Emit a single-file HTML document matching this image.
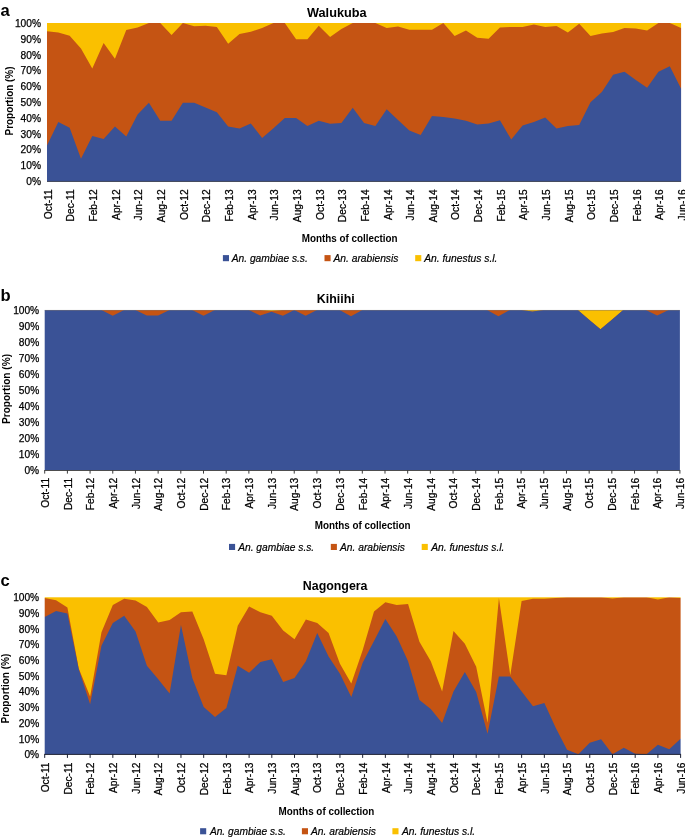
<!DOCTYPE html>
<html><head><meta charset="utf-8"><title>Figure</title>
<style>
html,body{margin:0;padding:0;background:#fff;}
body{width:685px;height:837px;overflow:hidden;}
svg{display:block;will-change:transform;}
text{font-family:"Liberation Sans",sans-serif;fill:#000;}
.tl{font-size:10.2px;stroke:#000;stroke-width:0.25px;}
.tt{font-size:12.4px;font-weight:bold;}
.pl{font-size:16.6px;font-weight:bold;fill:#000;}
.at{font-size:10.2px;font-weight:bold;}
.lg{font-size:10.4px;font-style:italic;stroke:#000;stroke-width:0.2px;}
</style></head>
<body>
<svg width="685" height="837" viewBox="0 0 685 837">
<rect width="685" height="837" fill="#fff"/>
<mask id="cpa" maskUnits="userSpaceOnUse" x="0" y="0" width="685" height="837"><rect x="47.00" y="23.00" width="634.10" height="158.10" fill="#fff"/></mask>
<g mask="url(#cpa)">
<rect x="44.00" y="20.00" width="640.10" height="164.10" fill="#FAC000"/>
<polygon points="44.00,31.22 47.00,31.22 58.32,32.49 69.65,35.65 80.97,48.45 92.29,68.53 103.62,43.08 114.94,58.73 126.26,29.96 137.59,27.58 148.91,23.00 160.23,23.00 171.56,35.02 182.88,23.00 194.20,26.16 205.53,25.85 216.85,26.95 228.17,43.71 239.49,34.07 250.82,31.70 262.14,28.06 273.46,23.00 284.79,23.00 296.11,39.13 307.43,39.13 318.76,25.85 330.08,37.07 341.40,29.01 352.73,23.00 364.05,23.00 375.37,23.00 386.70,28.06 398.02,26.48 409.34,29.64 420.67,29.64 431.99,29.64 443.31,23.00 454.64,36.12 465.96,30.59 477.28,37.70 488.61,38.81 499.93,27.43 511.25,26.95 522.58,26.95 533.90,24.58 545.22,26.95 556.54,26.00 567.87,32.49 579.19,23.63 590.51,35.96 601.84,33.59 613.16,32.01 624.48,28.06 635.81,28.38 647.13,30.59 658.45,23.00 669.78,23.00 681.10,28.06 684.10,28.06 684.10,184.10 681.10,184.10 669.78,184.10 658.45,184.10 647.13,184.10 635.81,184.10 624.48,184.10 613.16,184.10 601.84,184.10 590.51,184.10 579.19,184.10 567.87,184.10 556.54,184.10 545.22,184.10 533.90,184.10 522.58,184.10 511.25,184.10 499.93,184.10 488.61,184.10 477.28,184.10 465.96,184.10 454.64,184.10 443.31,184.10 431.99,184.10 420.67,184.10 409.34,184.10 398.02,184.10 386.70,184.10 375.37,184.10 364.05,184.10 352.73,184.10 341.40,184.10 330.08,184.10 318.76,184.10 307.43,184.10 296.11,184.10 284.79,184.10 273.46,184.10 262.14,184.10 250.82,184.10 239.49,184.10 228.17,184.10 216.85,184.10 205.53,184.10 194.20,184.10 182.88,184.10 171.56,184.10 160.23,184.10 148.91,184.10 137.59,184.10 126.26,184.10 114.94,184.10 103.62,184.10 92.29,184.10 80.97,184.10 69.65,184.10 58.32,184.10 47.00,184.10 44.00,184.10" fill="#C55413"/>
<polygon points="44.00,145.53 47.00,145.53 58.32,121.97 69.65,127.66 80.97,158.65 92.29,136.04 103.62,138.89 114.94,126.40 126.26,136.52 137.59,114.38 148.91,102.68 160.23,120.86 171.56,120.86 182.88,102.68 194.20,102.68 205.53,107.43 216.85,112.33 228.17,126.40 239.49,128.45 250.82,123.39 262.14,137.94 273.46,128.14 284.79,118.02 296.11,118.02 307.43,126.08 318.76,120.86 330.08,123.87 341.40,122.92 352.73,107.74 364.05,123.08 375.37,125.92 386.70,109.32 398.02,120.07 409.34,130.51 420.67,134.93 431.99,115.96 443.31,117.07 454.64,118.49 465.96,120.86 477.28,124.50 488.61,123.39 499.93,120.23 511.25,139.52 522.58,125.45 533.90,121.97 545.22,117.39 556.54,128.45 567.87,126.08 579.19,124.97 590.51,102.37 601.84,91.93 613.16,74.86 624.48,71.85 635.81,79.92 647.13,87.82 658.45,71.85 669.78,66.16 681.10,88.77 684.10,88.77 684.10,184.10 681.10,184.10 669.78,184.10 658.45,184.10 647.13,184.10 635.81,184.10 624.48,184.10 613.16,184.10 601.84,184.10 590.51,184.10 579.19,184.10 567.87,184.10 556.54,184.10 545.22,184.10 533.90,184.10 522.58,184.10 511.25,184.10 499.93,184.10 488.61,184.10 477.28,184.10 465.96,184.10 454.64,184.10 443.31,184.10 431.99,184.10 420.67,184.10 409.34,184.10 398.02,184.10 386.70,184.10 375.37,184.10 364.05,184.10 352.73,184.10 341.40,184.10 330.08,184.10 318.76,184.10 307.43,184.10 296.11,184.10 284.79,184.10 273.46,184.10 262.14,184.10 250.82,184.10 239.49,184.10 228.17,184.10 216.85,184.10 205.53,184.10 194.20,184.10 182.88,184.10 171.56,184.10 160.23,184.10 148.91,184.10 137.59,184.10 126.26,184.10 114.94,184.10 103.62,184.10 92.29,184.10 80.97,184.10 69.65,184.10 58.32,184.10 47.00,184.10 44.00,184.10" fill="#3A5296"/>
</g>
<rect x="47.00" y="180.95" width="634.10" height="0.9" fill="#2b3047"/>
<text x="41.00" y="185.10" class="tl" text-anchor="end">0%</text>
<text x="41.00" y="169.29" class="tl" text-anchor="end">10%</text>
<text x="41.00" y="153.48" class="tl" text-anchor="end">20%</text>
<text x="41.00" y="137.67" class="tl" text-anchor="end">30%</text>
<text x="41.00" y="121.86" class="tl" text-anchor="end">40%</text>
<text x="41.00" y="106.05" class="tl" text-anchor="end">50%</text>
<text x="41.00" y="90.24" class="tl" text-anchor="end">60%</text>
<text x="41.00" y="74.43" class="tl" text-anchor="end">70%</text>
<text x="41.00" y="58.62" class="tl" text-anchor="end">80%</text>
<text x="41.00" y="42.81" class="tl" text-anchor="end">90%</text>
<text x="41.00" y="27.00" class="tl" text-anchor="end">100%</text>
<text transform="translate(51.80,189.30) rotate(-90)" class="tl" text-anchor="end">Oct-11</text>
<text transform="translate(74.45,189.30) rotate(-90)" class="tl" text-anchor="end">Dec-11</text>
<text transform="translate(97.09,189.30) rotate(-90)" class="tl" text-anchor="end">Feb-12</text>
<text transform="translate(119.74,189.30) rotate(-90)" class="tl" text-anchor="end">Apr-12</text>
<text transform="translate(142.39,189.30) rotate(-90)" class="tl" text-anchor="end">Jun-12</text>
<text transform="translate(165.03,189.30) rotate(-90)" class="tl" text-anchor="end">Aug-12</text>
<text transform="translate(187.68,189.30) rotate(-90)" class="tl" text-anchor="end">Oct-12</text>
<text transform="translate(210.33,189.30) rotate(-90)" class="tl" text-anchor="end">Dec-12</text>
<text transform="translate(232.97,189.30) rotate(-90)" class="tl" text-anchor="end">Feb-13</text>
<text transform="translate(255.62,189.30) rotate(-90)" class="tl" text-anchor="end">Apr-13</text>
<text transform="translate(278.26,189.30) rotate(-90)" class="tl" text-anchor="end">Jun-13</text>
<text transform="translate(300.91,189.30) rotate(-90)" class="tl" text-anchor="end">Aug-13</text>
<text transform="translate(323.56,189.30) rotate(-90)" class="tl" text-anchor="end">Oct-13</text>
<text transform="translate(346.20,189.30) rotate(-90)" class="tl" text-anchor="end">Dec-13</text>
<text transform="translate(368.85,189.30) rotate(-90)" class="tl" text-anchor="end">Feb-14</text>
<text transform="translate(391.50,189.30) rotate(-90)" class="tl" text-anchor="end">Apr-14</text>
<text transform="translate(414.14,189.30) rotate(-90)" class="tl" text-anchor="end">Jun-14</text>
<text transform="translate(436.79,189.30) rotate(-90)" class="tl" text-anchor="end">Aug-14</text>
<text transform="translate(459.44,189.30) rotate(-90)" class="tl" text-anchor="end">Oct-14</text>
<text transform="translate(482.08,189.30) rotate(-90)" class="tl" text-anchor="end">Dec-14</text>
<text transform="translate(504.73,189.30) rotate(-90)" class="tl" text-anchor="end">Feb-15</text>
<text transform="translate(527.38,189.30) rotate(-90)" class="tl" text-anchor="end">Apr-15</text>
<text transform="translate(550.02,189.30) rotate(-90)" class="tl" text-anchor="end">Jun-15</text>
<text transform="translate(572.67,189.30) rotate(-90)" class="tl" text-anchor="end">Aug-15</text>
<text transform="translate(595.31,189.30) rotate(-90)" class="tl" text-anchor="end">Oct-15</text>
<text transform="translate(617.96,189.30) rotate(-90)" class="tl" text-anchor="end">Dec-15</text>
<text transform="translate(640.61,189.30) rotate(-90)" class="tl" text-anchor="end">Feb-16</text>
<text transform="translate(663.25,189.30) rotate(-90)" class="tl" text-anchor="end">Apr-16</text>
<text transform="translate(685.90,189.30) rotate(-90)" class="tl" text-anchor="end">Jun-16</text>
<text x="307.00" y="16.60" class="tt" textLength="59.6" lengthAdjust="spacingAndGlyphs">Walukuba</text>
<text x="0.60" y="15.70" class="pl">a</text>
<text transform="translate(13.20,101.00) rotate(-90)" class="at" text-anchor="middle" textLength="69.0" lengthAdjust="spacingAndGlyphs">Proportion (%)</text>
<text x="301.80" y="242.00" class="at" textLength="95.8" lengthAdjust="spacingAndGlyphs">Months of collection</text>
<rect x="222.90" y="255.10" width="6.1" height="6.1" fill="#3A5296"/>
<text x="231.80" y="262.00" class="lg" textLength="76.0" lengthAdjust="spacingAndGlyphs">An. gambiae s.s.</text>
<rect x="324.50" y="255.10" width="6.1" height="6.1" fill="#C55413"/>
<text x="333.50" y="262.00" class="lg" textLength="64.9" lengthAdjust="spacingAndGlyphs">An. arabiensis</text>
<rect x="415.20" y="255.10" width="6.1" height="6.1" fill="#FAC000"/>
<text x="424.20" y="262.00" class="lg" textLength="73.3" lengthAdjust="spacingAndGlyphs">An. funestus s.l.</text>
<mask id="cpb" maskUnits="userSpaceOnUse" x="0" y="0" width="685" height="837"><rect x="44.70" y="310.10" width="635.20" height="160.00" fill="#fff"/></mask>
<g mask="url(#cpb)">
<rect x="41.70" y="307.10" width="641.20" height="166.00" fill="#FAC000"/>
<polygon points="41.70,310.10 44.70,310.10 56.04,310.10 67.39,310.10 78.73,310.10 90.07,310.10 101.41,310.10 112.76,310.10 124.10,310.10 135.44,310.10 146.79,310.10 158.13,310.10 169.47,310.10 180.81,310.10 192.16,310.10 203.50,310.10 214.84,310.10 226.19,310.10 237.53,310.10 248.87,310.10 260.21,310.10 271.56,310.90 282.90,310.10 294.24,310.10 305.59,310.10 316.93,310.10 328.27,310.10 339.61,310.10 350.96,310.10 362.30,310.10 373.64,310.10 384.99,310.10 396.33,310.10 407.67,310.10 419.01,310.10 430.36,310.10 441.70,310.10 453.04,310.10 464.39,310.10 475.73,310.10 487.07,310.10 498.41,310.10 509.76,310.10 521.10,310.10 532.44,311.38 543.79,310.10 555.13,310.10 566.47,310.10 577.81,310.10 589.16,319.70 600.50,329.30 611.84,319.70 623.19,310.10 634.53,310.10 645.87,310.10 657.21,310.10 668.56,310.10 679.90,310.10 682.90,310.10 682.90,473.10 679.90,473.10 668.56,473.10 657.21,473.10 645.87,473.10 634.53,473.10 623.19,473.10 611.84,473.10 600.50,473.10 589.16,473.10 577.81,473.10 566.47,473.10 555.13,473.10 543.79,473.10 532.44,473.10 521.10,473.10 509.76,473.10 498.41,473.10 487.07,473.10 475.73,473.10 464.39,473.10 453.04,473.10 441.70,473.10 430.36,473.10 419.01,473.10 407.67,473.10 396.33,473.10 384.99,473.10 373.64,473.10 362.30,473.10 350.96,473.10 339.61,473.10 328.27,473.10 316.93,473.10 305.59,473.10 294.24,473.10 282.90,473.10 271.56,473.10 260.21,473.10 248.87,473.10 237.53,473.10 226.19,473.10 214.84,473.10 203.50,473.10 192.16,473.10 180.81,473.10 169.47,473.10 158.13,473.10 146.79,473.10 135.44,473.10 124.10,473.10 112.76,473.10 101.41,473.10 90.07,473.10 78.73,473.10 67.39,473.10 56.04,473.10 44.70,473.10 41.70,473.10" fill="#C55413"/>
<polygon points="41.70,310.10 44.70,310.10 56.04,310.10 67.39,310.10 78.73,310.10 90.07,310.10 101.41,310.10 112.76,315.70 124.10,310.10 135.44,310.10 146.79,315.38 158.13,315.38 169.47,310.10 180.81,310.10 192.16,310.10 203.50,315.70 214.84,310.10 226.19,310.10 237.53,310.10 248.87,310.10 260.21,315.38 271.56,311.86 282.90,315.70 294.24,310.10 305.59,315.70 316.93,310.10 328.27,310.10 339.61,310.10 350.96,316.34 362.30,310.10 373.64,310.10 384.99,310.10 396.33,310.10 407.67,310.10 419.01,310.10 430.36,310.10 441.70,310.10 453.04,310.10 464.39,310.10 475.73,310.10 487.07,310.10 498.41,316.34 509.76,310.10 521.10,310.10 532.44,311.38 543.79,310.10 555.13,310.10 566.47,310.10 577.81,310.10 589.16,319.70 600.50,329.30 611.84,319.70 623.19,310.10 634.53,310.10 645.87,310.10 657.21,315.54 668.56,310.10 679.90,310.10 682.90,310.10 682.90,473.10 679.90,473.10 668.56,473.10 657.21,473.10 645.87,473.10 634.53,473.10 623.19,473.10 611.84,473.10 600.50,473.10 589.16,473.10 577.81,473.10 566.47,473.10 555.13,473.10 543.79,473.10 532.44,473.10 521.10,473.10 509.76,473.10 498.41,473.10 487.07,473.10 475.73,473.10 464.39,473.10 453.04,473.10 441.70,473.10 430.36,473.10 419.01,473.10 407.67,473.10 396.33,473.10 384.99,473.10 373.64,473.10 362.30,473.10 350.96,473.10 339.61,473.10 328.27,473.10 316.93,473.10 305.59,473.10 294.24,473.10 282.90,473.10 271.56,473.10 260.21,473.10 248.87,473.10 237.53,473.10 226.19,473.10 214.84,473.10 203.50,473.10 192.16,473.10 180.81,473.10 169.47,473.10 158.13,473.10 146.79,473.10 135.44,473.10 124.10,473.10 112.76,473.10 101.41,473.10 90.07,473.10 78.73,473.10 67.39,473.10 56.04,473.10 44.70,473.10 41.70,473.10" fill="#3A5296"/>
</g>
<rect x="44.70" y="309.90" width="635.20" height="1" fill="#6e6058" opacity="0.4"/>
<rect x="44.70" y="470.00" width="635.20" height="0.9" fill="#3c3c3c"/>
<rect x="44.20" y="470.00" width="1" height="3.6" fill="#3c3c3c"/>
<rect x="66.89" y="470.00" width="1" height="3.6" fill="#3c3c3c"/>
<rect x="89.57" y="470.00" width="1" height="3.6" fill="#3c3c3c"/>
<rect x="112.26" y="470.00" width="1" height="3.6" fill="#3c3c3c"/>
<rect x="134.94" y="470.00" width="1" height="3.6" fill="#3c3c3c"/>
<rect x="157.63" y="470.00" width="1" height="3.6" fill="#3c3c3c"/>
<rect x="180.31" y="470.00" width="1" height="3.6" fill="#3c3c3c"/>
<rect x="203.00" y="470.00" width="1" height="3.6" fill="#3c3c3c"/>
<rect x="225.69" y="470.00" width="1" height="3.6" fill="#3c3c3c"/>
<rect x="248.37" y="470.00" width="1" height="3.6" fill="#3c3c3c"/>
<rect x="271.06" y="470.00" width="1" height="3.6" fill="#3c3c3c"/>
<rect x="293.74" y="470.00" width="1" height="3.6" fill="#3c3c3c"/>
<rect x="316.43" y="470.00" width="1" height="3.6" fill="#3c3c3c"/>
<rect x="339.11" y="470.00" width="1" height="3.6" fill="#3c3c3c"/>
<rect x="361.80" y="470.00" width="1" height="3.6" fill="#3c3c3c"/>
<rect x="384.49" y="470.00" width="1" height="3.6" fill="#3c3c3c"/>
<rect x="407.17" y="470.00" width="1" height="3.6" fill="#3c3c3c"/>
<rect x="429.86" y="470.00" width="1" height="3.6" fill="#3c3c3c"/>
<rect x="452.54" y="470.00" width="1" height="3.6" fill="#3c3c3c"/>
<rect x="475.23" y="470.00" width="1" height="3.6" fill="#3c3c3c"/>
<rect x="497.91" y="470.00" width="1" height="3.6" fill="#3c3c3c"/>
<rect x="520.60" y="470.00" width="1" height="3.6" fill="#3c3c3c"/>
<rect x="543.29" y="470.00" width="1" height="3.6" fill="#3c3c3c"/>
<rect x="565.97" y="470.00" width="1" height="3.6" fill="#3c3c3c"/>
<rect x="588.66" y="470.00" width="1" height="3.6" fill="#3c3c3c"/>
<rect x="611.34" y="470.00" width="1" height="3.6" fill="#3c3c3c"/>
<rect x="634.03" y="470.00" width="1" height="3.6" fill="#3c3c3c"/>
<rect x="656.71" y="470.00" width="1" height="3.6" fill="#3c3c3c"/>
<rect x="679.40" y="470.00" width="1" height="3.6" fill="#3c3c3c"/>
<text x="39.20" y="474.10" class="tl" text-anchor="end">0%</text>
<text x="39.20" y="458.10" class="tl" text-anchor="end">10%</text>
<text x="39.20" y="442.10" class="tl" text-anchor="end">20%</text>
<text x="39.20" y="426.10" class="tl" text-anchor="end">30%</text>
<text x="39.20" y="410.10" class="tl" text-anchor="end">40%</text>
<text x="39.20" y="394.10" class="tl" text-anchor="end">50%</text>
<text x="39.20" y="378.10" class="tl" text-anchor="end">60%</text>
<text x="39.20" y="362.10" class="tl" text-anchor="end">70%</text>
<text x="39.20" y="346.10" class="tl" text-anchor="end">80%</text>
<text x="39.20" y="330.10" class="tl" text-anchor="end">90%</text>
<text x="39.20" y="314.10" class="tl" text-anchor="end">100%</text>
<text transform="translate(48.90,477.90) rotate(-90)" class="tl" text-anchor="end">Oct-11</text>
<text transform="translate(71.59,477.90) rotate(-90)" class="tl" text-anchor="end">Dec-11</text>
<text transform="translate(94.27,477.90) rotate(-90)" class="tl" text-anchor="end">Feb-12</text>
<text transform="translate(116.96,477.90) rotate(-90)" class="tl" text-anchor="end">Apr-12</text>
<text transform="translate(139.64,477.90) rotate(-90)" class="tl" text-anchor="end">Jun-12</text>
<text transform="translate(162.33,477.90) rotate(-90)" class="tl" text-anchor="end">Aug-12</text>
<text transform="translate(185.01,477.90) rotate(-90)" class="tl" text-anchor="end">Oct-12</text>
<text transform="translate(207.70,477.90) rotate(-90)" class="tl" text-anchor="end">Dec-12</text>
<text transform="translate(230.39,477.90) rotate(-90)" class="tl" text-anchor="end">Feb-13</text>
<text transform="translate(253.07,477.90) rotate(-90)" class="tl" text-anchor="end">Apr-13</text>
<text transform="translate(275.76,477.90) rotate(-90)" class="tl" text-anchor="end">Jun-13</text>
<text transform="translate(298.44,477.90) rotate(-90)" class="tl" text-anchor="end">Aug-13</text>
<text transform="translate(321.13,477.90) rotate(-90)" class="tl" text-anchor="end">Oct-13</text>
<text transform="translate(343.81,477.90) rotate(-90)" class="tl" text-anchor="end">Dec-13</text>
<text transform="translate(366.50,477.90) rotate(-90)" class="tl" text-anchor="end">Feb-14</text>
<text transform="translate(389.19,477.90) rotate(-90)" class="tl" text-anchor="end">Apr-14</text>
<text transform="translate(411.87,477.90) rotate(-90)" class="tl" text-anchor="end">Jun-14</text>
<text transform="translate(434.56,477.90) rotate(-90)" class="tl" text-anchor="end">Aug-14</text>
<text transform="translate(457.24,477.90) rotate(-90)" class="tl" text-anchor="end">Oct-14</text>
<text transform="translate(479.93,477.90) rotate(-90)" class="tl" text-anchor="end">Dec-14</text>
<text transform="translate(502.61,477.90) rotate(-90)" class="tl" text-anchor="end">Feb-15</text>
<text transform="translate(525.30,477.90) rotate(-90)" class="tl" text-anchor="end">Apr-15</text>
<text transform="translate(547.99,477.90) rotate(-90)" class="tl" text-anchor="end">Jun-15</text>
<text transform="translate(570.67,477.90) rotate(-90)" class="tl" text-anchor="end">Aug-15</text>
<text transform="translate(593.36,477.90) rotate(-90)" class="tl" text-anchor="end">Oct-15</text>
<text transform="translate(616.04,477.90) rotate(-90)" class="tl" text-anchor="end">Dec-15</text>
<text transform="translate(638.73,477.90) rotate(-90)" class="tl" text-anchor="end">Feb-16</text>
<text transform="translate(661.41,477.90) rotate(-90)" class="tl" text-anchor="end">Apr-16</text>
<text transform="translate(684.10,477.90) rotate(-90)" class="tl" text-anchor="end">Jun-16</text>
<text x="316.80" y="303.10" class="tt">Kihiihi</text>
<text x="0.60" y="301.30" class="pl">b</text>
<text transform="translate(10.40,389.00) rotate(-90)" class="at" text-anchor="middle" textLength="70.0" lengthAdjust="spacingAndGlyphs">Proportion (%)</text>
<text x="314.80" y="528.50" class="at" textLength="95.8" lengthAdjust="spacingAndGlyphs">Months of collection</text>
<rect x="229.00" y="543.90" width="6.1" height="6.1" fill="#3A5296"/>
<text x="238.20" y="550.70" class="lg" textLength="76.0" lengthAdjust="spacingAndGlyphs">An. gambiae s.s.</text>
<rect x="330.80" y="543.90" width="6.1" height="6.1" fill="#C55413"/>
<text x="340.00" y="550.70" class="lg" textLength="64.9" lengthAdjust="spacingAndGlyphs">An. arabiensis</text>
<rect x="421.70" y="543.90" width="6.1" height="6.1" fill="#FAC000"/>
<text x="431.20" y="550.70" class="lg" textLength="73.3" lengthAdjust="spacingAndGlyphs">An. funestus s.l.</text>
<mask id="cpc" maskUnits="userSpaceOnUse" x="0" y="0" width="685" height="837"><rect x="44.70" y="597.30" width="635.90" height="156.90" fill="#fff"/></mask>
<g mask="url(#cpc)">
<rect x="41.70" y="594.30" width="641.90" height="162.90" fill="#FAC000"/>
<polygon points="41.70,597.93 44.70,597.93 56.06,600.28 67.41,607.50 78.77,668.38 90.12,696.46 101.48,632.13 112.83,604.99 124.19,598.87 135.54,600.59 146.90,607.03 158.25,622.40 169.61,620.05 180.96,612.36 192.32,611.58 203.68,639.19 215.03,673.87 226.39,675.28 237.74,625.70 249.10,606.40 260.45,612.36 271.81,615.66 283.16,630.56 294.52,639.19 305.87,619.58 317.23,623.03 328.58,633.07 339.94,663.83 351.29,683.44 362.65,650.18 374.01,611.58 385.36,602.32 396.72,604.99 408.07,603.89 419.43,641.70 430.78,661.32 442.14,691.44 453.49,631.03 464.85,643.74 476.20,666.65 487.56,722.66 498.91,597.93 510.27,675.28 521.62,600.91 532.98,598.87 544.34,598.87 555.69,597.93 567.05,597.30 578.40,597.30 589.76,597.30 601.11,597.30 612.47,598.56 623.82,597.30 635.18,597.30 646.53,597.30 657.89,599.50 669.24,597.30 680.60,597.93 683.60,597.93 683.60,757.20 680.60,757.20 669.24,757.20 657.89,757.20 646.53,757.20 635.18,757.20 623.82,757.20 612.47,757.20 601.11,757.20 589.76,757.20 578.40,757.20 567.05,757.20 555.69,757.20 544.34,757.20 532.98,757.20 521.62,757.20 510.27,757.20 498.91,757.20 487.56,757.20 476.20,757.20 464.85,757.20 453.49,757.20 442.14,757.20 430.78,757.20 419.43,757.20 408.07,757.20 396.72,757.20 385.36,757.20 374.01,757.20 362.65,757.20 351.29,757.20 339.94,757.20 328.58,757.20 317.23,757.20 305.87,757.20 294.52,757.20 283.16,757.20 271.81,757.20 260.45,757.20 249.10,757.20 237.74,757.20 226.39,757.20 215.03,757.20 203.68,757.20 192.32,757.20 180.96,757.20 169.61,757.20 158.25,757.20 146.90,757.20 135.54,757.20 124.19,757.20 112.83,757.20 101.48,757.20 90.12,757.20 78.77,757.20 67.41,757.20 56.06,757.20 44.70,757.20 41.70,757.20" fill="#C55413"/>
<polygon points="41.70,617.07 44.70,617.07 56.06,610.95 67.41,613.62 78.77,669.32 90.12,704.15 101.48,645.78 112.83,623.03 124.19,615.66 135.54,631.50 146.90,665.87 158.25,679.36 169.61,693.48 180.96,625.07 192.32,677.95 203.68,706.97 215.03,717.01 226.39,708.07 237.74,665.87 249.10,672.77 260.45,661.94 271.81,659.28 283.16,682.03 294.52,677.95 305.87,661.32 317.23,633.07 328.58,656.61 339.94,673.87 351.29,696.93 362.65,662.73 374.01,641.08 385.36,618.95 396.72,636.52 408.07,661.32 419.43,700.07 430.78,709.01 442.14,722.98 453.49,691.44 464.85,671.98 476.20,692.07 487.56,733.65 498.91,676.38 510.27,676.38 521.62,691.44 532.98,706.19 544.34,703.05 555.69,727.68 567.05,749.81 578.40,754.20 589.76,742.75 601.11,739.14 612.47,754.20 623.82,747.77 635.18,753.73 646.53,754.20 657.89,744.79 669.24,749.34 680.60,738.82 683.60,738.82 683.60,757.20 680.60,757.20 669.24,757.20 657.89,757.20 646.53,757.20 635.18,757.20 623.82,757.20 612.47,757.20 601.11,757.20 589.76,757.20 578.40,757.20 567.05,757.20 555.69,757.20 544.34,757.20 532.98,757.20 521.62,757.20 510.27,757.20 498.91,757.20 487.56,757.20 476.20,757.20 464.85,757.20 453.49,757.20 442.14,757.20 430.78,757.20 419.43,757.20 408.07,757.20 396.72,757.20 385.36,757.20 374.01,757.20 362.65,757.20 351.29,757.20 339.94,757.20 328.58,757.20 317.23,757.20 305.87,757.20 294.52,757.20 283.16,757.20 271.81,757.20 260.45,757.20 249.10,757.20 237.74,757.20 226.39,757.20 215.03,757.20 203.68,757.20 192.32,757.20 180.96,757.20 169.61,757.20 158.25,757.20 146.90,757.20 135.54,757.20 124.19,757.20 112.83,757.20 101.48,757.20 90.12,757.20 78.77,757.20 67.41,757.20 56.06,757.20 44.70,757.20 41.70,757.20" fill="#3A5296"/>
</g>
<rect x="44.70" y="753.90" width="635.90" height="1.0" fill="#1c2033"/>
<rect x="44.20" y="753.90" width="1" height="4.0" fill="#1c2033"/>
<rect x="66.91" y="753.90" width="1" height="4.0" fill="#1c2033"/>
<rect x="89.62" y="753.90" width="1" height="4.0" fill="#1c2033"/>
<rect x="112.33" y="753.90" width="1" height="4.0" fill="#1c2033"/>
<rect x="135.04" y="753.90" width="1" height="4.0" fill="#1c2033"/>
<rect x="157.75" y="753.90" width="1" height="4.0" fill="#1c2033"/>
<rect x="180.46" y="753.90" width="1" height="4.0" fill="#1c2033"/>
<rect x="203.18" y="753.90" width="1" height="4.0" fill="#1c2033"/>
<rect x="225.89" y="753.90" width="1" height="4.0" fill="#1c2033"/>
<rect x="248.60" y="753.90" width="1" height="4.0" fill="#1c2033"/>
<rect x="271.31" y="753.90" width="1" height="4.0" fill="#1c2033"/>
<rect x="294.02" y="753.90" width="1" height="4.0" fill="#1c2033"/>
<rect x="316.73" y="753.90" width="1" height="4.0" fill="#1c2033"/>
<rect x="339.44" y="753.90" width="1" height="4.0" fill="#1c2033"/>
<rect x="362.15" y="753.90" width="1" height="4.0" fill="#1c2033"/>
<rect x="384.86" y="753.90" width="1" height="4.0" fill="#1c2033"/>
<rect x="407.57" y="753.90" width="1" height="4.0" fill="#1c2033"/>
<rect x="430.28" y="753.90" width="1" height="4.0" fill="#1c2033"/>
<rect x="452.99" y="753.90" width="1" height="4.0" fill="#1c2033"/>
<rect x="475.70" y="753.90" width="1" height="4.0" fill="#1c2033"/>
<rect x="498.41" y="753.90" width="1" height="4.0" fill="#1c2033"/>
<rect x="521.12" y="753.90" width="1" height="4.0" fill="#1c2033"/>
<rect x="543.84" y="753.90" width="1" height="4.0" fill="#1c2033"/>
<rect x="566.55" y="753.90" width="1" height="4.0" fill="#1c2033"/>
<rect x="589.26" y="753.90" width="1" height="4.0" fill="#1c2033"/>
<rect x="611.97" y="753.90" width="1" height="4.0" fill="#1c2033"/>
<rect x="634.68" y="753.90" width="1" height="4.0" fill="#1c2033"/>
<rect x="657.39" y="753.90" width="1" height="4.0" fill="#1c2033"/>
<rect x="680.10" y="753.90" width="1" height="4.0" fill="#1c2033"/>
<text x="39.20" y="758.20" class="tl" text-anchor="end">0%</text>
<text x="39.20" y="742.51" class="tl" text-anchor="end">10%</text>
<text x="39.20" y="726.82" class="tl" text-anchor="end">20%</text>
<text x="39.20" y="711.13" class="tl" text-anchor="end">30%</text>
<text x="39.20" y="695.44" class="tl" text-anchor="end">40%</text>
<text x="39.20" y="679.75" class="tl" text-anchor="end">50%</text>
<text x="39.20" y="664.06" class="tl" text-anchor="end">60%</text>
<text x="39.20" y="648.37" class="tl" text-anchor="end">70%</text>
<text x="39.20" y="632.68" class="tl" text-anchor="end">80%</text>
<text x="39.20" y="616.99" class="tl" text-anchor="end">90%</text>
<text x="39.20" y="601.30" class="tl" text-anchor="end">100%</text>
<text transform="translate(48.90,762.50) rotate(-90)" class="tl" text-anchor="end">Oct-11</text>
<text transform="translate(71.61,762.50) rotate(-90)" class="tl" text-anchor="end">Dec-11</text>
<text transform="translate(94.32,762.50) rotate(-90)" class="tl" text-anchor="end">Feb-12</text>
<text transform="translate(117.03,762.50) rotate(-90)" class="tl" text-anchor="end">Apr-12</text>
<text transform="translate(139.74,762.50) rotate(-90)" class="tl" text-anchor="end">Jun-12</text>
<text transform="translate(162.45,762.50) rotate(-90)" class="tl" text-anchor="end">Aug-12</text>
<text transform="translate(185.16,762.50) rotate(-90)" class="tl" text-anchor="end">Oct-12</text>
<text transform="translate(207.88,762.50) rotate(-90)" class="tl" text-anchor="end">Dec-12</text>
<text transform="translate(230.59,762.50) rotate(-90)" class="tl" text-anchor="end">Feb-13</text>
<text transform="translate(253.30,762.50) rotate(-90)" class="tl" text-anchor="end">Apr-13</text>
<text transform="translate(276.01,762.50) rotate(-90)" class="tl" text-anchor="end">Jun-13</text>
<text transform="translate(298.72,762.50) rotate(-90)" class="tl" text-anchor="end">Aug-13</text>
<text transform="translate(321.43,762.50) rotate(-90)" class="tl" text-anchor="end">Oct-13</text>
<text transform="translate(344.14,762.50) rotate(-90)" class="tl" text-anchor="end">Dec-13</text>
<text transform="translate(366.85,762.50) rotate(-90)" class="tl" text-anchor="end">Feb-14</text>
<text transform="translate(389.56,762.50) rotate(-90)" class="tl" text-anchor="end">Apr-14</text>
<text transform="translate(412.27,762.50) rotate(-90)" class="tl" text-anchor="end">Jun-14</text>
<text transform="translate(434.98,762.50) rotate(-90)" class="tl" text-anchor="end">Aug-14</text>
<text transform="translate(457.69,762.50) rotate(-90)" class="tl" text-anchor="end">Oct-14</text>
<text transform="translate(480.40,762.50) rotate(-90)" class="tl" text-anchor="end">Dec-14</text>
<text transform="translate(503.11,762.50) rotate(-90)" class="tl" text-anchor="end">Feb-15</text>
<text transform="translate(525.83,762.50) rotate(-90)" class="tl" text-anchor="end">Apr-15</text>
<text transform="translate(548.54,762.50) rotate(-90)" class="tl" text-anchor="end">Jun-15</text>
<text transform="translate(571.25,762.50) rotate(-90)" class="tl" text-anchor="end">Aug-15</text>
<text transform="translate(593.96,762.50) rotate(-90)" class="tl" text-anchor="end">Oct-15</text>
<text transform="translate(616.67,762.50) rotate(-90)" class="tl" text-anchor="end">Dec-15</text>
<text transform="translate(639.38,762.50) rotate(-90)" class="tl" text-anchor="end">Feb-16</text>
<text transform="translate(662.09,762.50) rotate(-90)" class="tl" text-anchor="end">Apr-16</text>
<text transform="translate(684.80,762.50) rotate(-90)" class="tl" text-anchor="end">Jun-16</text>
<text x="302.80" y="589.60" class="tt">Nagongera</text>
<text x="0.60" y="586.00" class="pl">c</text>
<text transform="translate(8.90,688.50) rotate(-90)" class="at" text-anchor="middle" textLength="69.8" lengthAdjust="spacingAndGlyphs">Proportion (%)</text>
<text x="278.60" y="815.20" class="at" textLength="95.8" lengthAdjust="spacingAndGlyphs">Months of collection</text>
<rect x="200.10" y="828.20" width="6.1" height="6.1" fill="#3A5296"/>
<text x="209.90" y="835.00" class="lg" textLength="76.0" lengthAdjust="spacingAndGlyphs">An. gambiae s.s.</text>
<rect x="301.90" y="828.20" width="6.1" height="6.1" fill="#C55413"/>
<text x="311.00" y="835.00" class="lg" textLength="64.9" lengthAdjust="spacingAndGlyphs">An. arabiensis</text>
<rect x="392.40" y="828.20" width="6.1" height="6.1" fill="#FAC000"/>
<text x="401.90" y="835.00" class="lg" textLength="73.3" lengthAdjust="spacingAndGlyphs">An. funestus s.l.</text>
</svg>
</body></html>
